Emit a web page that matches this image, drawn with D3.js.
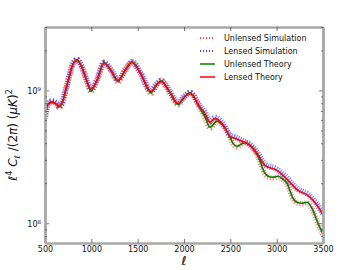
<!DOCTYPE html>
<html>
<head>
<meta charset="utf-8">
<script src="https://cdn.jsdelivr.net/npm/d3@7"></script>
<style>
  body { margin: 0; background: #fff; }
  svg text { font-family: "DejaVu Sans", sans-serif; }
</style>
</head>
<body>
<div id="chart"></div>
<script>
// multipoles and spectra (l^4 C_l / 2pi)
var lensedL = [500, 532, 576, 629, 651, 683, 737, 802, 845, 899, 953, 996, 1061, 1137, 1212, 1288, 1363, 1439, 1525, 1644, 1698, 1752, 1849, 1935, 2011, 2065, 2173, 2227, 2281, 2335, 2388, 2442, 2496, 2550, 2626, 2712, 2788, 2874, 3004, 3090, 3230, 3338, 3435, 3500];
var lensedTheory = [6.27e8, 7.85e8, 8.12e8, 7.85e8, 7.58e8, 7.98e8, 1.09e9, 1.57e9, 1.68e9, 1.49e9, 1.17e9, 1.02e9, 1.19e9, 1.60e9, 1.41e9, 1.19e9, 1.41e9, 1.62e9, 1.37e9, 0.98e9, 1.09e9, 1.17e9, 0.966e9, 0.798e9, 0.901e9, 0.949e9, 0.745e9, 0.672e9, 0.575e9, 0.616e9, 0.585e9, 0.527e9, 0.451e9, 0.436e9, 0.414e9, 0.386e9, 0.336e9, 0.273e9, 0.250e9, 0.222e9, 0.177e9, 0.162e9, 0.137e9, 0.115e9];

var unlensedL = [500, 532, 576, 629, 651, 683, 737, 802, 845, 899, 953, 996, 1061, 1137, 1212, 1288, 1363, 1439, 1525, 1644, 1698, 1752, 1849, 1935, 2011, 2065, 2173, 2227, 2281, 2356, 2410, 2442, 2496, 2529, 2572, 2658, 2712, 2745, 2799, 2874, 2906, 2960, 3014, 3068, 3111, 3176, 3219, 3273, 3327, 3381, 3446, 3500];
var unlensedTheory = [6.27e8, 7.85e8, 8.2e8, 7.8e8, 7.5e8, 7.98e8, 1.09e9, 1.58e9, 1.70e9, 1.49e9, 1.16e9, 0.99e9, 1.19e9, 1.62e9, 1.41e9, 1.17e9, 1.41e9, 1.64e9, 1.37e9, 0.96e9, 1.08e9, 1.18e9, 0.96e9, 0.785e9, 0.901e9, 0.96e9, 0.732e9, 0.63e9, 0.527e9, 0.585e9, 0.555e9, 0.518e9, 0.443e9, 0.399e9, 0.379e9, 0.406e9, 0.386e9, 0.366e9, 0.319e9, 0.2376e9, 0.2256e9, 0.2217e9, 0.2256e9, 0.2142e9, 0.1999e9, 0.1542e9, 0.1438e9, 0.1414e9, 0.1438e9, 0.1297e9, 0.100e9, 0.0827e9];

// simulation bands (centre of the dotted scatter)
var lensedSim = [6.2e8, 7.9e8, 8.3e8, 7.9e8, 7.6e8, 8.0e8, 1.10e9, 1.58e9, 1.70e9, 1.50e9, 1.18e9, 1.02e9, 1.20e9, 1.61e9, 1.43e9, 1.20e9, 1.42e9, 1.63e9, 1.38e9, 0.99e9, 1.10e9, 1.18e9, 0.98e9, 0.81e9, 0.91e9, 0.96e9, 0.76e9, 0.68e9, 0.585e9, 0.625e9, 0.595e9, 0.535e9, 0.46e9, 0.445e9, 0.42e9, 0.392e9, 0.342e9, 0.278e9, 0.255e9, 0.226e9, 0.180e9, 0.165e9, 0.139e9, 0.117e9];
var unlensedSim = [6.3e8, 7.8e8, 8.2e8, 7.8e8, 7.4e8, 7.9e8, 1.09e9, 1.59e9, 1.72e9, 1.49e9, 1.15e9, 0.98e9, 1.19e9, 1.63e9, 1.41e9, 1.16e9, 1.41e9, 1.65e9, 1.37e9, 0.95e9, 1.08e9, 1.19e9, 0.95e9, 0.78e9, 0.90e9, 0.97e9, 0.73e9, 0.62e9, 0.52e9, 0.58e9, 0.55e9, 0.515e9, 0.44e9, 0.396e9, 0.376e9, 0.405e9, 0.384e9, 0.364e9, 0.316e9, 0.235e9, 0.223e9, 0.219e9, 0.223e9, 0.212e9, 0.198e9, 0.153e9, 0.142e9, 0.140e9, 0.142e9, 0.128e9, 0.099e9, 0.082e9];

var xTicks = [500, 1000, 1500, 2000, 2500, 3000, 3500];
var yMajor = [1e8, 1e9];
var yMinor = [8e7, 9e7, 2e8, 3e8, 4e8, 5e8, 6e8, 7e8, 8e8, 9e8, 2e9, 3e9];
var legendLabels = ["Unlensed Simulation", "Lensed Simulation", "Unlensed Theory", "Lensed Theory"];

var margin = {top: 27, right: 37, bottom: 27, left: 45},
    width = 360 - margin.left - margin.right,
    height = 270 - margin.top - margin.bottom;

var svgRoot = d3.select("#chart").append("svg")
    .attr("width", 360).attr("height", 270);
svgRoot.append("rect").attr("width", 360).attr("height", 270).attr("fill", "#fff");

var svg = svgRoot.append("g")
    .attr("transform", "translate(" + margin.left + "," + margin.top + ")");

var x = d3.scaleLinear().domain([500, 3500]).range([0, width]);
var y = d3.scaleLog().domain([7.1e7, 3e9]).range([height, 0]);

var line = d3.line()
    .x(function(d) { return x(d[0]); })
    .y(function(d) { return y(d[1]); })
    .curve(d3.curveMonotoneX);

function pairs(ls, vs) { return ls.map(function(l, i) { return [l, vs[i]]; }); }

svg.append("defs").append("clipPath").attr("id", "clip")
  .append("rect").attr("width", width).attr("height", height);
var plot = svg.append("g").attr("clip-path", "url(#clip)");

// simulations: dotted, thick so they read as scatter bands
plot.append("path").datum(pairs(unlensedL, unlensedSim))
    .attr("d", line).attr("fill", "none")
    .attr("stroke", "#ff0000").attr("stroke-width", 5.5)
    .attr("stroke-dasharray", "1 1.6").attr("opacity", 0.5);
plot.append("path").datum(pairs(lensedL, lensedSim))
    .attr("d", line).attr("fill", "none")
    .attr("stroke", "#0000ff").attr("stroke-width", 6)
    .attr("stroke-dasharray", "1 1.3").attr("stroke-dashoffset", 0.7).attr("opacity", 0.55);

// theory
plot.append("path").datum(pairs(unlensedL, unlensedTheory))
    .attr("d", line).attr("fill", "none")
    .attr("stroke", "#008000").attr("stroke-width", 1.6);
plot.append("path").datum(pairs(lensedL, lensedTheory))
    .attr("d", line).attr("fill", "none")
    .attr("stroke", "#ff0000").attr("stroke-width", 1.6);

// axes, ticks pointing in
var spine = "#a8a8a8";
function styleAxis(g) {
  g.select(".domain").attr("stroke", spine).attr("stroke-width", 2.5);
  g.selectAll(".tick line").attr("stroke", "#555").attr("stroke-width", 0.8);
  g.selectAll(".tick text").attr("font-size", 8).attr("fill", "#111")
    .attr("font-family", "DejaVu Sans");
}

svg.append("g").attr("transform", "translate(0," + height + ")")
  .call(d3.axisBottom(x).tickValues(xTicks).tickFormat(d3.format("d"))
        .tickSize(-4).tickSizeOuter(0).tickPadding(3))
  .call(styleAxis);
svg.append("g")
  .call(d3.axisTop(x).tickValues(xTicks).tickFormat("").tickSize(-4).tickSizeOuter(0))
  .call(styleAxis);

var yl = svg.append("g")
  .call(d3.axisLeft(y).tickValues(yMajor).tickFormat("").tickSize(-4).tickSizeOuter(0).tickPadding(3))
  .call(styleAxis);
yl.selectAll(".tick").append("text")
  .attr("x", -4).attr("dy", "0.35em").attr("text-anchor", "end")
  .attr("font-size", 8).attr("fill", "#111")
  .each(function(d) {
    var t = d3.select(this);
    t.append("tspan").text("10");
    t.append("tspan").attr("font-size", 5.5).attr("dy", "-0.5em").text(Math.round(Math.log10(d)));
  });
svg.append("g")
  .call(d3.axisLeft(y).tickValues(yMinor).tickFormat("").tickSize(-2).tickSizeOuter(0))
  .call(styleAxis);

svg.append("g").attr("transform", "translate(" + width + ",0)")
  .call(d3.axisRight(y).tickValues(yMajor).tickFormat("").tickSize(-4).tickSizeOuter(0))
  .call(styleAxis);
svg.append("g").attr("transform", "translate(" + width + ",0)")
  .call(d3.axisRight(y).tickValues(yMinor).tickFormat("").tickSize(-2).tickSizeOuter(0))
  .call(styleAxis);

// axis labels
svgRoot.append("text")
  .attr("x", 184).attr("y", 265)
  .attr("text-anchor", "middle")
  .attr("font-family", "Liberation Serif").attr("font-style", "italic")
  .attr("font-size", 12).text("ℓ");

var ylab = svgRoot.append("text")
  .attr("transform", "translate(17,135) rotate(-90)")
  .attr("text-anchor", "middle")
  .attr("font-family", "Liberation Serif").attr("font-style", "italic")
  .attr("font-size", 12).attr("fill", "#111");
ylab.append("tspan").text("ℓ");
ylab.append("tspan").attr("font-size", 8).attr("dy", -5).attr("font-style", "normal").text("4");
ylab.append("tspan").attr("dy", 5).text(" C");
ylab.append("tspan").attr("font-size", 8).attr("dy", 3).text("ℓ");
ylab.append("tspan").attr("dy", -3).attr("font-style", "normal").text(" /(2");
ylab.append("tspan").text("π");
ylab.append("tspan").attr("font-style", "normal").text(")  (");
ylab.append("tspan").text("μK");
ylab.append("tspan").attr("font-style", "normal").text(")");
ylab.append("tspan").attr("font-size", 8).attr("dy", -5).attr("font-style", "normal").text("2");

// legend
var legendStyles = [
  {color: "#ff0000", dash: "1 2", width: 1.5},
  {color: "#0000ff", dash: "1 2", width: 1.5},
  {color: "#008000", dash: null, width: 1.5},
  {color: "#ff0000", dash: null, width: 1.5}
];
var legend = svgRoot.append("g");
legendLabels.forEach(function(label, i) {
  var ly = 38 + i * 13;
  legend.append("line")
    .attr("x1", 200).attr("x2", 215).attr("y1", ly).attr("y2", ly)
    .attr("stroke", legendStyles[i].color)
    .attr("stroke-width", legendStyles[i].width)
    .attr("stroke-dasharray", legendStyles[i].dash);
  legend.append("text")
    .attr("x", 224).attr("y", ly).attr("dy", "0.35em")
    .attr("font-size", 8).attr("fill", "#111")
    .text(label);
});
</script>
</body>
</html>
